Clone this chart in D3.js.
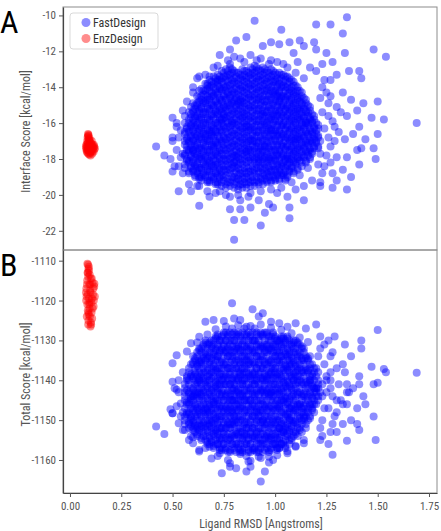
<!DOCTYPE html>
<html>
<head>
<meta charset="utf-8">
<script src="https://cdn.jsdelivr.net/npm/d3@7"></script>
<style>
  body { margin: 0; background: #fff; }
  svg { display: block; font-family: "Liberation Sans Narrow", "Roboto Condensed", Roboto, sans-serif; }
</style>
</head>
<body>
<svg id="chart" width="441" height="531"></svg>
<script>
const xTicks = [0, 0.25, 0.5, 0.75, 1, 1.25, 1.5, 1.75];
const interfaceTicks = [-22, -20, -18, -16, -14, -12, -10];
const totalTicks = [-1160, -1150, -1140, -1130, -1120, -1110];
const seriesNames = ['FastDesign', 'EnzDesign'];

// rows: [ligand RMSD, interface score, total score]
const fastDesign = [
[0.56,-16.0,-1145],[0.57,-16.3,-1148],[0.56,-16.6,-1151],[0.57,-16.9,-1139],[0.56,-17.2,-1142],[0.57,-17.5,-1146],[0.56,-17.8,-1149],[0.57,-18.1,-1140],[0.56,-18.5,-1143],
[0.58,-15.4,-1143],[0.59,-15.7,-1145],[0.58,-16.0,-1148],[0.59,-16.2,-1150],[0.58,-16.5,-1152],[0.59,-16.8,-1136],[0.58,-17.1,-1138],[0.59,-17.4,-1139],[0.58,-17.6,-1141],[0.59,-17.9,-1144],[0.58,-18.2,-1146],[0.59,-18.5,-1149],[0.58,-18.8,-1151],
[0.60,-14.9,-1142],[0.61,-15.2,-1143],[0.60,-15.4,-1144],[0.61,-15.7,-1146],[0.60,-16.0,-1147],[0.61,-16.2,-1148],[0.60,-16.5,-1150],[0.61,-16.8,-1151],[0.60,-17.0,-1152],[0.61,-17.3,-1153],[0.60,-17.6,-1134],[0.61,-17.9,-1135],[0.60,-18.2,-1136],[0.61,-18.4,-1138],[0.60,-18.7,-1139],[0.61,-19.0,-1140],
[0.62,-14.5,-1147],[0.63,-14.8,-1148],[0.62,-15.0,-1149],[0.63,-15.3,-1151],[0.62,-15.6,-1152],[0.63,-15.8,-1153],[0.62,-16.1,-1154],[0.63,-16.4,-1132],[0.62,-16.7,-1133],[0.63,-16.9,-1135],[0.62,-17.2,-1136],[0.63,-17.5,-1137],[0.62,-17.8,-1139],[0.63,-18.0,-1140],[0.62,-18.3,-1141],[0.63,-18.6,-1143],[0.62,-18.8,-1144],[0.63,-19.1,-1145],
[0.64,-14.1,-1136],[0.65,-14.4,-1138],[0.64,-14.7,-1139],[0.65,-14.9,-1140],[0.64,-15.2,-1142],[0.65,-15.5,-1143],[0.64,-15.8,-1144],[0.65,-16.1,-1146],[0.64,-16.4,-1147],[0.65,-16.6,-1148],[0.64,-16.9,-1150],[0.65,-17.2,-1151],[0.64,-17.5,-1152],[0.65,-17.8,-1154],[0.64,-18.0,-1155],[0.65,-18.3,-1131],[0.64,-18.6,-1132],[0.65,-18.9,-1134],[0.64,-19.2,-1135],
[0.66,-13.8,-1149],[0.67,-14.1,-1151],[0.66,-14.4,-1152],[0.67,-14.7,-1153],[0.66,-14.9,-1155],[0.67,-15.2,-1156],[0.66,-15.5,-1130],[0.67,-15.8,-1131],[0.66,-16.1,-1133],[0.67,-16.4,-1134],[0.66,-16.7,-1135],[0.67,-17.0,-1137],[0.66,-17.3,-1138],[0.67,-17.6,-1140],[0.66,-17.9,-1141],[0.67,-18.2,-1142],[0.66,-18.4,-1144],[0.67,-18.7,-1145],[0.66,-19.0,-1147],[0.67,-19.3,-1148],
[0.68,-13.6,-1140],[0.69,-13.9,-1142],[0.68,-14.2,-1143],[0.69,-14.5,-1144],[0.68,-14.7,-1146],[0.69,-15.0,-1147],[0.68,-15.3,-1148],[0.69,-15.6,-1150],[0.68,-15.9,-1151],[0.69,-16.2,-1152],[0.68,-16.5,-1154],[0.69,-16.7,-1155],[0.68,-17.0,-1156],[0.69,-17.3,-1130],[0.68,-17.6,-1131],[0.69,-17.9,-1132],[0.68,-18.2,-1134],[0.69,-18.4,-1135],[0.68,-18.7,-1136],[0.69,-19.0,-1138],[0.68,-19.3,-1139],
[0.70,-13.4,-1152],[0.71,-13.7,-1153],[0.70,-14.0,-1154],[0.71,-14.3,-1156],[0.70,-14.5,-1157],[0.71,-14.8,-1129],[0.70,-15.1,-1130],[0.71,-15.4,-1132],[0.70,-15.7,-1133],[0.71,-16.0,-1134],[0.70,-16.3,-1136],[0.71,-16.5,-1137],[0.70,-16.8,-1138],[0.71,-17.1,-1140],[0.70,-17.4,-1141],[0.71,-17.7,-1142],[0.70,-18.0,-1144],[0.71,-18.3,-1145],[0.70,-18.5,-1146],[0.71,-18.8,-1148],[0.70,-19.1,-1149],[0.71,-19.4,-1150],
[0.72,-13.3,-1135],[0.73,-13.6,-1137],[0.72,-13.9,-1138],[0.73,-14.1,-1139],[0.72,-14.4,-1141],[0.73,-14.7,-1142],[0.72,-15.0,-1143],[0.73,-15.3,-1145],[0.72,-15.5,-1146],[0.73,-15.8,-1147],[0.72,-16.1,-1149],[0.73,-16.4,-1150],[0.72,-16.7,-1151],[0.73,-16.9,-1153],[0.72,-17.2,-1154],[0.73,-17.5,-1155],[0.72,-17.8,-1156],[0.73,-18.0,-1157],[0.72,-18.3,-1129],[0.73,-18.6,-1130],[0.72,-18.9,-1131],[0.73,-19.1,-1133],[0.72,-19.4,-1134],
[0.74,-13.1,-1144],[0.75,-13.4,-1145],[0.74,-13.7,-1147],[0.75,-14.0,-1148],[0.74,-14.2,-1149],[0.75,-14.5,-1151],[0.74,-14.8,-1152],[0.75,-15.1,-1153],[0.74,-15.4,-1155],[0.75,-15.7,-1156],[0.74,-16.0,-1157],[0.75,-16.2,-1128],[0.74,-16.5,-1129],[0.75,-16.8,-1131],[0.74,-17.1,-1132],[0.75,-17.4,-1133],[0.74,-17.7,-1135],[0.75,-18.0,-1136],[0.74,-18.3,-1137],[0.75,-18.6,-1139],[0.74,-18.9,-1140],[0.75,-19.2,-1141],[0.74,-19.5,-1143],
[0.76,-13.0,-1154],[0.77,-13.3,-1155],[0.76,-13.6,-1157],[0.77,-13.9,-1158],[0.76,-14.2,-1128],[0.77,-14.4,-1129],[0.76,-14.7,-1130],[0.77,-15.0,-1132],[0.76,-15.3,-1133],[0.77,-15.6,-1134],[0.76,-15.9,-1136],[0.77,-16.2,-1137],[0.76,-16.5,-1139],[0.77,-16.8,-1140],[0.76,-17.1,-1141],[0.77,-17.4,-1143],[0.76,-17.7,-1144],[0.77,-18.0,-1146],[0.76,-18.3,-1147],[0.77,-18.6,-1148],[0.76,-18.9,-1150],[0.77,-19.3,-1151],[0.76,-19.6,-1152],
[0.78,-12.9,-1138],[0.79,-13.2,-1140],[0.78,-13.5,-1141],[0.79,-13.8,-1142],[0.78,-14.1,-1144],[0.79,-14.4,-1145],[0.78,-14.6,-1147],[0.79,-14.9,-1148],[0.78,-15.2,-1149],[0.79,-15.5,-1151],[0.78,-15.8,-1152],[0.79,-16.1,-1154],[0.78,-16.4,-1155],[0.79,-16.7,-1156],[0.78,-17.0,-1158],[0.79,-17.3,-1127],[0.78,-17.6,-1128],[0.79,-17.9,-1130],[0.78,-18.2,-1131],[0.79,-18.5,-1133],[0.78,-18.8,-1134],[0.79,-19.2,-1135],[0.78,-19.5,-1137],
[0.80,-13.1,-1149],[0.81,-13.4,-1150],[0.80,-13.7,-1151],[0.81,-14.0,-1153],[0.80,-14.3,-1154],[0.81,-14.6,-1156],[0.80,-14.8,-1157],[0.81,-15.1,-1158],[0.80,-15.4,-1128],[0.81,-15.7,-1129],[0.80,-16.0,-1130],[0.81,-16.3,-1132],[0.80,-16.6,-1133],[0.81,-16.9,-1135],[0.80,-17.2,-1136],[0.81,-17.5,-1137],[0.80,-17.8,-1139],[0.81,-18.1,-1140],[0.80,-18.4,-1142],[0.81,-18.7,-1143],[0.80,-19.0,-1144],[0.81,-19.3,-1146],[0.80,-19.6,-1147],
[0.82,-13.2,-1132],[0.83,-13.5,-1133],[0.82,-13.8,-1135],[0.83,-14.1,-1136],[0.82,-14.4,-1138],[0.83,-14.7,-1139],[0.82,-14.9,-1140],[0.83,-15.2,-1142],[0.82,-15.5,-1143],[0.83,-15.8,-1145],[0.82,-16.1,-1146],[0.83,-16.4,-1147],[0.82,-16.7,-1149],[0.83,-17.0,-1150],[0.82,-17.3,-1152],[0.83,-17.6,-1153],[0.82,-17.9,-1154],[0.83,-18.2,-1156],[0.82,-18.5,-1157],[0.83,-18.8,-1158],[0.82,-19.1,-1128],[0.83,-19.4,-1129],[0.82,-19.7,-1131],
[0.84,-13.0,-1141],[0.85,-13.3,-1143],[0.84,-13.6,-1144],[0.85,-13.9,-1145],[0.84,-14.2,-1147],[0.85,-14.5,-1148],[0.84,-14.8,-1150],[0.85,-15.1,-1151],[0.84,-15.4,-1153],[0.85,-15.6,-1154],[0.84,-15.9,-1155],[0.85,-16.2,-1157],[0.84,-16.5,-1158],[0.85,-16.8,-1127],[0.84,-17.1,-1128],[0.85,-17.4,-1130],[0.84,-17.7,-1131],[0.85,-18.0,-1133],[0.84,-18.3,-1134],[0.85,-18.7,-1135],[0.84,-19.0,-1137],[0.85,-19.3,-1138],[0.84,-19.6,-1140],
[0.86,-13.1,-1154],[0.87,-13.4,-1155],[0.86,-13.7,-1156],[0.87,-14.0,-1158],[0.86,-14.3,-1159],[0.87,-14.6,-1128],[0.86,-14.9,-1129],[0.87,-15.2,-1131],[0.86,-15.5,-1132],[0.87,-15.8,-1134],[0.86,-16.1,-1135],[0.87,-16.4,-1136],[0.86,-16.7,-1138],[0.87,-17.0,-1139],[0.86,-17.2,-1141],[0.87,-17.5,-1142],[0.86,-17.8,-1144],[0.87,-18.1,-1145],[0.86,-18.4,-1146],[0.87,-18.7,-1148],[0.86,-19.0,-1149],[0.87,-19.3,-1151],[0.86,-19.6,-1152],
[0.88,-12.9,-1136],[0.89,-13.2,-1138],[0.88,-13.5,-1139],[0.89,-13.8,-1140],[0.88,-14.1,-1142],[0.89,-14.4,-1143],[0.88,-14.7,-1145],[0.89,-15.0,-1146],[0.88,-15.3,-1147],[0.89,-15.6,-1149],[0.88,-15.9,-1150],[0.89,-16.2,-1152],[0.88,-16.4,-1153],[0.89,-16.7,-1154],[0.88,-17.0,-1156],[0.89,-17.3,-1157],[0.88,-17.6,-1158],[0.89,-17.9,-1128],[0.88,-18.2,-1129],[0.89,-18.6,-1130],[0.88,-18.9,-1132],[0.89,-19.2,-1133],[0.88,-19.5,-1135],
[0.90,-12.8,-1145],[0.91,-13.1,-1147],[0.90,-13.4,-1148],[0.91,-13.7,-1150],[0.90,-14.0,-1151],[0.91,-14.3,-1153],[0.90,-14.6,-1154],[0.91,-14.9,-1155],[0.90,-15.2,-1157],[0.91,-15.5,-1158],[0.90,-15.8,-1127],[0.91,-16.1,-1128],[0.90,-16.4,-1130],[0.91,-16.7,-1131],[0.90,-17.0,-1133],[0.91,-17.3,-1134],[0.90,-17.6,-1136],[0.91,-17.9,-1137],[0.90,-18.2,-1138],[0.91,-18.5,-1140],[0.90,-18.8,-1141],[0.91,-19.2,-1143],[0.90,-19.5,-1144],
[0.92,-13.0,-1131],[0.93,-13.3,-1132],[0.92,-13.6,-1134],[0.93,-13.9,-1135],[0.92,-14.2,-1136],[0.93,-14.5,-1138],[0.92,-14.7,-1139],[0.93,-15.0,-1141],[0.92,-15.3,-1142],[0.93,-15.6,-1143],[0.92,-15.9,-1145],[0.93,-16.2,-1146],[0.92,-16.5,-1148],[0.93,-16.8,-1149],[0.92,-17.1,-1150],[0.93,-17.4,-1152],[0.92,-17.6,-1153],[0.93,-17.9,-1155],[0.92,-18.2,-1156],[0.93,-18.5,-1157],[0.92,-18.8,-1158],[0.93,-19.1,-1128],[0.92,-19.4,-1129],
[0.94,-12.9,-1150],[0.95,-13.2,-1151],[0.94,-13.5,-1152],[0.95,-13.8,-1154],[0.94,-14.1,-1155],[0.95,-14.4,-1156],[0.94,-14.7,-1158],[0.95,-15.0,-1128],[0.94,-15.3,-1129],[0.95,-15.6,-1131],[0.94,-15.9,-1132],[0.95,-16.1,-1133],[0.94,-16.4,-1135],[0.95,-16.7,-1136],[0.94,-17.0,-1137],[0.95,-17.3,-1139],[0.94,-17.6,-1140],[0.95,-17.9,-1142],[0.94,-18.2,-1143],[0.95,-18.5,-1144],[0.94,-18.8,-1146],[0.95,-19.1,-1147],[0.94,-19.4,-1148],
[0.96,-13.1,-1140],[0.97,-13.4,-1142],[0.96,-13.7,-1143],[0.97,-14.0,-1144],[0.96,-14.2,-1146],[0.97,-14.5,-1147],[0.96,-14.8,-1149],[0.97,-15.1,-1150],[0.96,-15.4,-1151],[0.97,-15.7,-1153],[0.96,-16.0,-1154],[0.97,-16.3,-1155],[0.96,-16.5,-1157],[0.97,-16.8,-1158],[0.96,-17.1,-1128],[0.97,-17.4,-1129],[0.96,-17.7,-1131],[0.97,-18.0,-1132],[0.96,-18.2,-1133],[0.97,-18.5,-1135],[0.96,-18.8,-1136],[0.97,-19.0,-1138],[0.96,-19.3,-1139],
[0.98,-13.0,-1155],[0.99,-13.3,-1156],[0.98,-13.6,-1157],[0.99,-13.9,-1128],[0.98,-14.2,-1129],[0.99,-14.4,-1131],[0.98,-14.7,-1132],[0.99,-15.0,-1133],[0.98,-15.3,-1135],[0.99,-15.6,-1136],[0.98,-15.8,-1137],[0.99,-16.1,-1139],[0.98,-16.4,-1140],[0.99,-16.7,-1141],[0.98,-17.0,-1143],[0.99,-17.3,-1144],[0.98,-17.6,-1145],[0.99,-17.9,-1147],[0.98,-18.1,-1148],[0.99,-18.4,-1150],[0.98,-18.7,-1151],[0.99,-19.0,-1152],[0.98,-19.3,-1154],
[1.00,-13.2,-1138],[1.01,-13.5,-1139],[1.00,-13.7,-1141],[1.01,-14.0,-1142],[1.00,-14.3,-1143],[1.01,-14.5,-1145],[1.00,-14.8,-1146],[1.01,-15.1,-1147],[1.00,-15.4,-1149],[1.01,-15.6,-1150],[1.00,-15.9,-1151],[1.01,-16.2,-1153],[1.00,-16.5,-1154],[1.01,-16.7,-1155],[1.00,-17.0,-1156],[1.01,-17.3,-1157],[1.00,-17.6,-1129],[1.01,-17.8,-1130],[1.00,-18.1,-1131],[1.01,-18.4,-1133],[1.00,-18.7,-1134],[1.01,-18.9,-1135],[1.00,-19.2,-1137],
[1.02,-13.2,-1147],[1.03,-13.5,-1148],[1.02,-13.8,-1150],[1.03,-14.0,-1151],[1.02,-14.3,-1152],[1.03,-14.6,-1153],[1.02,-14.8,-1155],[1.03,-15.1,-1156],[1.02,-15.4,-1157],[1.03,-15.7,-1129],[1.02,-15.9,-1130],[1.03,-16.2,-1131],[1.02,-16.5,-1133],[1.03,-16.8,-1134],[1.02,-17.0,-1135],[1.03,-17.3,-1136],[1.02,-17.6,-1138],[1.03,-17.9,-1139],[1.02,-18.1,-1140],[1.03,-18.4,-1142],[1.02,-18.7,-1143],[1.03,-18.9,-1144],[1.02,-19.2,-1146],
[1.04,-13.3,-1134],[1.05,-13.6,-1136],[1.04,-13.9,-1137],[1.05,-14.2,-1138],[1.04,-14.5,-1140],[1.05,-14.7,-1141],[1.04,-15.0,-1142],[1.05,-15.3,-1144],[1.04,-15.6,-1145],[1.05,-15.9,-1146],[1.04,-16.1,-1148],[1.05,-16.4,-1149],[1.04,-16.7,-1151],[1.05,-17.0,-1152],[1.04,-17.3,-1153],[1.05,-17.5,-1155],[1.04,-17.8,-1156],[1.05,-18.1,-1157],[1.04,-18.4,-1129],[1.05,-18.7,-1130],[1.04,-18.9,-1131],[1.05,-19.2,-1133],
[1.06,-13.4,-1144],[1.07,-13.7,-1145],[1.06,-14.0,-1146],[1.07,-14.3,-1148],[1.06,-14.5,-1149],[1.07,-14.8,-1150],[1.06,-15.1,-1152],[1.07,-15.4,-1153],[1.06,-15.6,-1154],[1.07,-15.9,-1156],[1.06,-16.2,-1129],[1.07,-16.5,-1130],[1.06,-16.8,-1132],[1.07,-17.0,-1133],[1.06,-17.3,-1134],[1.07,-17.6,-1136],[1.06,-17.9,-1137],[1.07,-18.2,-1138],[1.06,-18.4,-1140],[1.07,-18.7,-1141],[1.06,-19.0,-1142],
[1.08,-13.6,-1150],[1.09,-13.9,-1151],[1.08,-14.2,-1152],[1.09,-14.4,-1154],[1.08,-14.7,-1155],[1.09,-15.0,-1130],[1.08,-15.3,-1131],[1.09,-15.5,-1132],[1.08,-15.8,-1134],[1.09,-16.1,-1135],[1.08,-16.3,-1136],[1.09,-16.6,-1138],[1.08,-16.9,-1139],[1.09,-17.2,-1140],[1.08,-17.4,-1142],[1.09,-17.7,-1143],[1.08,-18.0,-1144],[1.09,-18.2,-1146],[1.08,-18.5,-1147],[1.09,-18.8,-1148],
[1.10,-13.9,-1138],[1.11,-14.2,-1140],[1.10,-14.5,-1141],[1.11,-14.7,-1143],[1.10,-15.0,-1144],[1.11,-15.3,-1146],[1.10,-15.6,-1147],[1.11,-15.8,-1148],[1.10,-16.1,-1150],[1.11,-16.4,-1151],[1.10,-16.7,-1153],[1.11,-16.9,-1154],[1.10,-17.2,-1130],[1.11,-17.5,-1131],[1.10,-17.8,-1133],[1.11,-18.0,-1134],[1.10,-18.3,-1136],[1.11,-18.6,-1137],
[1.12,-14.2,-1146],[1.13,-14.5,-1147],[1.12,-14.8,-1149],[1.13,-15.0,-1150],[1.12,-15.3,-1152],[1.13,-15.6,-1153],[1.12,-15.8,-1131],[1.13,-16.1,-1132],[1.12,-16.4,-1134],[1.13,-16.7,-1135],[1.12,-16.9,-1137],[1.13,-17.2,-1138],[1.12,-17.5,-1140],[1.13,-17.8,-1141],[1.12,-18.1,-1143],[1.13,-18.4,-1144],
[1.14,-14.6,-1138],[1.15,-14.9,-1140],[1.14,-15.2,-1141],[1.15,-15.4,-1143],[1.14,-15.7,-1144],[1.15,-16.0,-1146],[1.14,-16.3,-1147],[1.15,-16.5,-1149],[1.14,-16.8,-1150],[1.15,-17.1,-1152],[1.14,-17.4,-1132],[1.15,-17.6,-1134],[1.14,-17.9,-1135],[1.15,-18.2,-1137],
[1.16,-15.0,-1144],[1.17,-15.3,-1146],[1.16,-15.6,-1147],[1.17,-15.8,-1149],[1.16,-16.1,-1150],[1.17,-16.4,-1134],[1.16,-16.7,-1135],[1.17,-17.0,-1137],[1.16,-17.2,-1138],[1.17,-17.5,-1140],[1.16,-17.8,-1141],[1.17,-18.0,-1143],
[1.18,-15.5,-1141],[1.19,-15.8,-1142],[1.18,-16.0,-1144],[1.19,-16.3,-1145],[1.18,-16.6,-1147],[1.19,-16.9,-1148],[1.18,-17.1,-1136],[1.19,-17.4,-1138],[1.18,-17.7,-1139],
[1.20,-16.0,-1142],[1.21,-16.3,-1144],[1.20,-16.6,-1146],[1.21,-16.8,-1138],[1.20,-17.1,-1139],[1.21,-17.4,-1141],
[0.57,-16.2,-1145.5],[0.56,-16.5,-1147],[0.57,-16.8,-1148.5],[0.56,-17.0,-1150],[0.57,-17.3,-1139.5],[0.56,-17.7,-1141],[0.57,-18.0,-1142.5],[0.56,-18.3,-1144],
[0.59,-15.5,-1147],[0.58,-15.8,-1148.5],[0.59,-16.1,-1149.5],[0.58,-16.4,-1150.5],[0.59,-16.7,-1151.5],[0.58,-17.0,-1137],[0.59,-17.2,-1138.5],[0.58,-17.5,-1140],[0.59,-17.8,-1142],[0.58,-18.1,-1143.5],[0.59,-18.4,-1144.5],[0.58,-18.7,-1145.5],
[0.61,-15.0,-1138.5],[0.60,-15.3,-1139.5],[0.61,-15.6,-1141],[0.60,-15.8,-1142.5],[0.61,-16.1,-1143.5],[0.60,-16.4,-1145],[0.61,-16.6,-1146.5],[0.60,-16.9,-1147.5],[0.61,-17.2,-1149],[0.60,-17.5,-1150.5],[0.61,-17.7,-1151.5],[0.60,-18.0,-1152.5],[0.61,-18.3,-1134.5],[0.60,-18.6,-1135.5],[0.61,-18.9,-1137],
[0.63,-14.6,-1139.5],[0.62,-14.9,-1140.5],[0.63,-15.2,-1142],[0.62,-15.4,-1143.5],[0.63,-15.7,-1144.5],[0.62,-16.0,-1146],[0.63,-16.3,-1147.5],[0.62,-16.5,-1148.5],[0.63,-16.8,-1150],[0.62,-17.1,-1151.5],[0.63,-17.4,-1152.5],[0.62,-17.6,-1153.5],[0.63,-17.9,-1132.5],[0.62,-18.2,-1134],[0.63,-18.5,-1135.5],[0.62,-18.7,-1136.5],[0.63,-19.0,-1138],
[0.65,-14.2,-1147.5],[0.64,-14.5,-1149],[0.65,-14.8,-1150.5],[0.64,-15.1,-1151.5],[0.65,-15.4,-1153],[0.64,-15.7,-1154.5],[0.65,-16.0,-1131.5],[0.64,-16.2,-1133],[0.65,-16.5,-1134.5],[0.64,-16.8,-1135.5],[0.65,-17.1,-1137],[0.64,-17.4,-1138.5],[0.65,-17.6,-1139.5],[0.64,-17.9,-1141],[0.65,-18.2,-1142.5],[0.64,-18.5,-1143.5],[0.65,-18.8,-1145],[0.64,-19.0,-1146.5],
[0.67,-13.9,-1139],[0.66,-14.2,-1140.5],[0.67,-14.5,-1141.5],[0.66,-14.8,-1143],[0.67,-15.1,-1144.5],[0.66,-15.4,-1146],[0.67,-15.7,-1147.5],[0.66,-16.0,-1148.5],[0.67,-16.3,-1150],[0.66,-16.6,-1151.5],[0.67,-16.9,-1152.5],[0.66,-17.2,-1154],[0.67,-17.5,-1155.5],[0.66,-17.8,-1130.5],[0.67,-18.0,-1132],[0.66,-18.3,-1133.5],[0.67,-18.6,-1134.5],[0.66,-18.9,-1136],[0.67,-19.2,-1137.5],
[0.69,-13.7,-1150.5],[0.68,-14.0,-1151.5],[0.69,-14.3,-1153],[0.68,-14.6,-1154.5],[0.69,-14.9,-1155.5],[0.68,-15.2,-1130.5],[0.69,-15.5,-1131.5],[0.68,-15.8,-1133],[0.69,-16.1,-1134.5],[0.68,-16.4,-1135.5],[0.69,-16.6,-1137],[0.68,-16.9,-1138.5],[0.69,-17.2,-1139.5],[0.68,-17.5,-1141],[0.69,-17.8,-1142.5],[0.68,-18.1,-1143.5],[0.69,-18.3,-1145],[0.68,-18.6,-1146.5],[0.69,-18.9,-1147.5],[0.68,-19.2,-1149],
[0.71,-13.5,-1141.5],[0.70,-13.8,-1143],[0.71,-14.1,-1144.5],[0.70,-14.4,-1145.5],[0.71,-14.7,-1147],[0.70,-15.0,-1148.5],[0.71,-15.3,-1149.5],[0.70,-15.5,-1151],[0.71,-15.8,-1152.5],[0.70,-16.1,-1153.5],[0.71,-16.4,-1155],[0.70,-16.7,-1156.5],[0.71,-17.0,-1129.5],[0.70,-17.3,-1131],[0.71,-17.6,-1132.5],[0.70,-17.8,-1133.5],[0.71,-18.1,-1135],[0.70,-18.4,-1136.5],[0.71,-18.7,-1137.5],[0.70,-19.0,-1139],[0.71,-19.3,-1140.5],
[0.73,-13.4,-1132.5],[0.72,-13.7,-1134],[0.73,-14.0,-1135.5],[0.72,-14.3,-1137],[0.73,-14.6,-1138.5],[0.72,-14.9,-1139.5],[0.73,-15.1,-1141],[0.72,-15.4,-1142.5],[0.73,-15.7,-1143.5],[0.72,-16.0,-1145],[0.73,-16.2,-1146.5],[0.72,-16.5,-1147.5],[0.73,-16.8,-1149],[0.72,-17.1,-1150.5],[0.73,-17.4,-1152],[0.72,-17.6,-1153.5],[0.73,-17.9,-1154.5],[0.72,-18.2,-1156],[0.73,-18.5,-1157.5],[0.72,-18.7,-1128.5],[0.73,-19.0,-1130],[0.72,-19.3,-1131.5],
[0.75,-13.2,-1142.5],[0.74,-13.5,-1143.5],[0.75,-13.8,-1145],[0.74,-14.1,-1146.5],[0.75,-14.4,-1147.5],[0.74,-14.7,-1149],[0.75,-15.0,-1150.5],[0.74,-15.2,-1152],[0.75,-15.5,-1153.5],[0.74,-15.8,-1154.5],[0.75,-16.1,-1156],[0.74,-16.4,-1157.5],[0.75,-16.7,-1128.5],[0.74,-17.0,-1130],[0.75,-17.2,-1131.5],[0.74,-17.5,-1132.5],[0.75,-17.8,-1134],[0.74,-18.1,-1135.5],[0.75,-18.4,-1137],[0.74,-18.7,-1138.5],[0.75,-19.0,-1139.5],[0.74,-19.3,-1141],
[0.77,-13.1,-1150.5],[0.76,-13.4,-1152],[0.77,-13.7,-1153.5],[0.76,-14.0,-1154.5],[0.77,-14.3,-1156],[0.76,-14.6,-1157.5],[0.77,-14.9,-1128.5],[0.76,-15.1,-1130],[0.77,-15.4,-1131.5],[0.76,-15.7,-1132.5],[0.77,-16.0,-1134],[0.76,-16.3,-1135.5],[0.77,-16.6,-1137],[0.76,-16.9,-1138.5],[0.77,-17.2,-1139.5],[0.76,-17.5,-1141],[0.77,-17.8,-1142.5],[0.76,-18.1,-1143.5],[0.77,-18.4,-1145],[0.76,-18.7,-1146.5],[0.77,-19.1,-1147.5],[0.76,-19.4,-1149],
[0.79,-13.0,-1137],[0.78,-13.3,-1138.5],[0.79,-13.6,-1139.5],[0.78,-13.9,-1141],[0.79,-14.2,-1142.5],[0.78,-14.5,-1143.5],[0.79,-14.8,-1145],[0.78,-15.0,-1146.5],[0.79,-15.3,-1147.5],[0.78,-15.6,-1149],[0.79,-15.9,-1150.5],[0.78,-16.2,-1152],[0.79,-16.5,-1153.5],[0.78,-16.8,-1154.5],[0.79,-17.1,-1156],[0.78,-17.4,-1157.5],[0.79,-17.7,-1128.5],[0.78,-18.0,-1130],[0.79,-18.3,-1131.5],[0.78,-18.6,-1132.5],[0.79,-19.0,-1134],[0.78,-19.3,-1135.5],
[0.81,-13.2,-1147.5],[0.80,-13.5,-1149],[0.81,-13.8,-1150.5],[0.80,-14.1,-1152],[0.81,-14.4,-1153.5],[0.80,-14.7,-1154.5],[0.81,-15.0,-1156],[0.80,-15.2,-1157.5],[0.81,-15.5,-1128.5],[0.80,-15.8,-1130],[0.81,-16.1,-1131.5],[0.80,-16.4,-1132.5],[0.81,-16.7,-1134],[0.80,-17.0,-1135.5],[0.81,-17.3,-1137],[0.80,-17.6,-1138.5],[0.81,-17.9,-1139.5],[0.80,-18.2,-1141],[0.81,-18.5,-1142.5],[0.80,-18.8,-1143.5],[0.81,-19.1,-1145],[0.80,-19.4,-1146.5],
[0.83,-13.3,-1130],[0.82,-13.6,-1131.5],[0.83,-13.9,-1132.5],[0.82,-14.2,-1134],[0.83,-14.5,-1135.5],[0.82,-14.8,-1137],[0.83,-15.0,-1138.5],[0.82,-15.3,-1139.5],[0.83,-15.6,-1141],[0.82,-15.9,-1142.5],[0.83,-16.2,-1143.5],[0.82,-16.5,-1145],[0.83,-16.8,-1146.5],[0.82,-17.1,-1147.5],[0.83,-17.4,-1149],[0.82,-17.7,-1150.5],[0.83,-18.0,-1152],[0.82,-18.3,-1153.5],[0.83,-18.6,-1154.5],[0.82,-18.9,-1156],[0.83,-19.2,-1157.5],[0.82,-19.5,-1128.5],
[0.85,-13.1,-1139.5],[0.84,-13.4,-1141],[0.85,-13.7,-1142.5],[0.84,-14.0,-1143.5],[0.85,-14.3,-1145],[0.84,-14.6,-1146.5],[0.85,-14.9,-1147.5],[0.84,-15.2,-1149],[0.85,-15.5,-1150.5],[0.84,-15.7,-1152],[0.85,-16.0,-1153.5],[0.84,-16.3,-1154.5],[0.85,-16.6,-1156],[0.84,-16.9,-1157.5],[0.85,-17.2,-1128.5],[0.84,-17.5,-1130],[0.85,-17.8,-1131.5],[0.84,-18.1,-1132.5],[0.85,-18.5,-1134],[0.84,-18.8,-1135.5],[0.85,-19.1,-1137],[0.84,-19.4,-1138.5],
[0.87,-13.2,-1154.5],[0.86,-13.5,-1156],[0.87,-13.8,-1157.5],[0.86,-14.1,-1128.5],[0.87,-14.4,-1130],[0.86,-14.7,-1131.5],[0.87,-15.0,-1132.5],[0.86,-15.3,-1134],[0.87,-15.6,-1135.5],[0.86,-15.9,-1137],[0.87,-16.2,-1138.5],[0.86,-16.5,-1139.5],[0.87,-16.8,-1141],[0.86,-17.1,-1142.5],[0.87,-17.4,-1143.5],[0.86,-17.6,-1145],[0.87,-17.9,-1146.5],[0.86,-18.2,-1147.5],[0.87,-18.5,-1149],[0.86,-18.8,-1150.5],[0.87,-19.1,-1152],[0.86,-19.4,-1153.5],
[0.89,-13.0,-1135.5],[0.88,-13.3,-1137],[0.89,-13.6,-1138.5],[0.88,-13.9,-1139.5],[0.89,-14.2,-1141],[0.88,-14.5,-1142.5],[0.89,-14.8,-1143.5],[0.88,-15.1,-1145],[0.89,-15.4,-1146.5],[0.88,-15.7,-1147.5],[0.89,-16.0,-1149],[0.88,-16.3,-1150.5],[0.89,-16.6,-1152],[0.88,-16.9,-1153.5],[0.89,-17.2,-1154.5],[0.88,-17.5,-1156],[0.89,-17.8,-1157.5],[0.88,-18.0,-1128.5],[0.89,-18.4,-1130],[0.88,-18.7,-1131.5],[0.89,-19.0,-1132.5],[0.88,-19.3,-1134],
[0.91,-12.9,-1145],[0.90,-13.2,-1146.5],[0.91,-13.5,-1147.5],[0.90,-13.8,-1149],[0.91,-14.1,-1150.5],[0.90,-14.4,-1152],[0.91,-14.7,-1153.5],[0.90,-15.0,-1154.5],[0.91,-15.3,-1156],[0.90,-15.6,-1157.5],[0.91,-15.9,-1128.5],[0.90,-16.2,-1130],[0.91,-16.5,-1131.5],[0.90,-16.8,-1132.5],[0.91,-17.1,-1134],[0.90,-17.4,-1135.5],[0.91,-17.7,-1137],[0.90,-18.0,-1138.5],[0.91,-18.3,-1139.5],[0.90,-18.6,-1141],[0.91,-19.0,-1142.5],[0.90,-19.3,-1143.5],
[0.93,-13.1,-1131.5],[0.92,-13.4,-1132.5],[0.93,-13.7,-1134],[0.92,-14.0,-1135.5],[0.93,-14.3,-1137],[0.92,-14.6,-1138.5],[0.93,-14.9,-1139.5],[0.92,-15.2,-1141],[0.93,-15.5,-1142.5],[0.92,-15.8,-1143.5],[0.93,-16.1,-1145],[0.92,-16.4,-1146.5],[0.93,-16.7,-1147.5],[0.92,-17.0,-1149],[0.93,-17.3,-1150.5],[0.92,-17.5,-1152],[0.93,-17.8,-1153.5],[0.92,-18.1,-1154.5],[0.93,-18.4,-1156],[0.92,-18.7,-1157.5],[0.93,-19.0,-1128.5],[0.92,-19.3,-1130],
[0.95,-13.0,-1149],[0.94,-13.3,-1150.5],[0.95,-13.6,-1152],[0.94,-13.9,-1153.5],[0.95,-14.2,-1154.5],[0.94,-14.5,-1156],[0.95,-14.8,-1157.5],[0.94,-15.1,-1128.5],[0.95,-15.4,-1130],[0.94,-15.7,-1131.5],[0.95,-16.0,-1132.5],[0.94,-16.3,-1134],[0.95,-16.6,-1135.5],[0.94,-16.9,-1137],[0.95,-17.2,-1138.5],[0.94,-17.5,-1139.5],[0.95,-17.8,-1141],[0.94,-18.0,-1142.5],[0.95,-18.3,-1143.5],[0.94,-18.6,-1145],[0.95,-18.9,-1146.5],[0.94,-19.2,-1147.5],
[0.97,-13.2,-1138.5],[0.96,-13.5,-1139.5],[0.97,-13.8,-1141],[0.96,-14.1,-1142.5],[0.97,-14.4,-1143.5],[0.96,-14.7,-1145],[0.97,-15.0,-1146.5],[0.96,-15.3,-1147.5],[0.97,-15.6,-1149],[0.96,-15.9,-1150.5],[0.97,-16.1,-1152],[0.96,-16.4,-1153.5],[0.97,-16.7,-1154.5],[0.96,-17.0,-1156],[0.97,-17.3,-1157.5],[0.96,-17.6,-1128.5],[0.97,-17.9,-1130],[0.96,-18.1,-1131.5],[0.97,-18.4,-1132.5],[0.96,-18.7,-1134],[0.97,-18.9,-1135.5],[0.96,-19.2,-1137],
[0.99,-13.1,-1156],[0.98,-13.4,-1157.5],[0.99,-13.7,-1128.5],[0.98,-14.0,-1130],[0.99,-14.3,-1131.5],[0.98,-14.6,-1132.5],[0.99,-14.9,-1134],[0.98,-15.2,-1135.5],[0.99,-15.5,-1137],[0.98,-15.7,-1138.5],[0.99,-16.0,-1139.5],[0.98,-16.3,-1141],[0.99,-16.6,-1142.5],[0.98,-16.9,-1143.5],[0.99,-17.2,-1145],[0.98,-17.5,-1146.5],[0.99,-17.8,-1147.5],[0.98,-18.0,-1149],[0.99,-18.3,-1150.5],[0.98,-18.6,-1152],[0.99,-18.9,-1153.5],[0.98,-19.2,-1154.5],
[1.01,-13.3,-1143.5],[1.00,-13.6,-1145],[1.01,-13.9,-1146.5],[1.00,-14.2,-1147.5],[1.01,-14.4,-1149],[1.00,-14.7,-1150.5],[1.01,-15.0,-1152],[1.00,-15.3,-1153.5],[1.01,-15.5,-1154.5],[1.00,-15.8,-1156],[1.01,-16.1,-1157],[1.00,-16.4,-1129.5],[1.01,-16.6,-1130],[1.00,-16.9,-1131.5],[1.01,-17.2,-1132.5],[1.00,-17.5,-1134],[1.01,-17.7,-1135.5],[1.00,-18.0,-1137],[1.01,-18.3,-1138.5],[1.00,-18.6,-1139.5],[1.01,-18.8,-1141],[1.00,-19.1,-1142.5],
[1.03,-13.3,-1134],[1.02,-13.6,-1135.5],[1.03,-13.9,-1137],[1.02,-14.2,-1138.5],[1.03,-14.5,-1139.5],[1.02,-14.7,-1141],[1.03,-15.0,-1142.5],[1.02,-15.3,-1143.5],[1.03,-15.5,-1145],[1.02,-15.8,-1146.5],[1.03,-16.1,-1147.5],[1.02,-16.4,-1149],[1.03,-16.6,-1150.5],[1.02,-16.9,-1152],[1.03,-17.2,-1153.5],[1.02,-17.5,-1154.5],[1.03,-17.7,-1156],[1.02,-18.0,-1157],[1.03,-18.3,-1129.5],[1.02,-18.5,-1130.5],[1.03,-18.8,-1131.5],[1.02,-19.1,-1132.5],
[1.05,-13.4,-1148.5],[1.04,-13.7,-1150],[1.05,-14.0,-1151.5],[1.04,-14.3,-1152.5],[1.05,-14.6,-1154],[1.04,-14.9,-1155.5],[1.05,-15.2,-1156.5],[1.04,-15.4,-1129.5],[1.05,-15.7,-1130.5],[1.04,-16.0,-1132],[1.05,-16.3,-1133.5],[1.04,-16.6,-1135],[1.05,-16.8,-1136.5],[1.04,-17.1,-1137.5],[1.05,-17.4,-1139],[1.04,-17.7,-1140.5],[1.05,-18.0,-1141.5],[1.04,-18.2,-1143],[1.05,-18.5,-1144.5],[1.04,-18.8,-1145.5],[1.05,-19.1,-1147],
[1.07,-13.5,-1136.5],[1.06,-13.8,-1137.5],[1.07,-14.1,-1139],[1.06,-14.4,-1140.5],[1.07,-14.7,-1141.5],[1.06,-15.0,-1143],[1.07,-15.2,-1144.5],[1.06,-15.5,-1145.5],[1.07,-15.8,-1147],[1.06,-16.1,-1148.5],[1.07,-16.4,-1149.5],[1.06,-16.6,-1151],[1.07,-16.9,-1152.5],[1.06,-17.2,-1153.5],[1.07,-17.5,-1155],[1.06,-17.8,-1129.5],[1.07,-18.0,-1131],[1.06,-18.3,-1132.5],[1.07,-18.6,-1133.5],[1.06,-18.9,-1135],
[1.09,-13.7,-1145],[1.08,-14.0,-1146.5],[1.09,-14.3,-1147.5],[1.08,-14.6,-1149],[1.09,-14.9,-1150.5],[1.08,-15.1,-1151.5],[1.09,-15.4,-1153],[1.08,-15.7,-1154.5],[1.09,-15.9,-1130.5],[1.08,-16.2,-1131.5],[1.09,-16.5,-1133],[1.08,-16.8,-1134.5],[1.09,-17.0,-1135.5],[1.08,-17.3,-1137],[1.09,-17.6,-1138.5],[1.08,-17.8,-1139.5],[1.09,-18.1,-1141],[1.08,-18.4,-1142.5],[1.09,-18.7,-1143.5],
[1.11,-14.0,-1135],[1.10,-14.3,-1136.5],[1.11,-14.6,-1137.5],[1.10,-14.9,-1139],[1.11,-15.2,-1140.5],[1.10,-15.4,-1142],[1.11,-15.7,-1143.5],[1.10,-16.0,-1145],[1.11,-16.3,-1146.5],[1.10,-16.5,-1147.5],[1.11,-16.8,-1149],[1.10,-17.1,-1150.5],[1.11,-17.4,-1152],[1.10,-17.6,-1153.5],[1.11,-17.9,-1130.5],[1.10,-18.2,-1132],[1.11,-18.5,-1133.5],
[1.13,-14.3,-1145],[1.12,-14.6,-1146.5],[1.13,-14.9,-1148],[1.12,-15.2,-1149.5],[1.13,-15.4,-1151],[1.12,-15.7,-1152.5],[1.13,-16.0,-1131.5],[1.12,-16.2,-1133],[1.13,-16.5,-1134.5],[1.12,-16.8,-1136],[1.13,-17.1,-1137.5],[1.12,-17.3,-1139],[1.13,-17.6,-1140.5],[1.12,-17.9,-1142],[1.13,-18.2,-1143.5],
[1.15,-14.7,-1142],[1.14,-15.0,-1143.5],[1.15,-15.3,-1145],[1.14,-15.6,-1146.5],[1.15,-15.9,-1148],[1.14,-16.1,-1149.5],[1.15,-16.4,-1151],[1.14,-16.7,-1133],[1.15,-17.0,-1134.5],[1.14,-17.2,-1136],[1.15,-17.5,-1137.5],[1.14,-17.8,-1139],[1.15,-18.1,-1140.5],
[1.17,-15.1,-1140.5],[1.16,-15.4,-1142],[1.17,-15.7,-1143.5],[1.16,-16.0,-1145],[1.17,-16.3,-1146.5],[1.16,-16.6,-1148],[1.17,-16.8,-1149.5],[1.16,-17.1,-1134.5],[1.17,-17.4,-1136],[1.16,-17.6,-1137.5],[1.17,-17.9,-1139],
[1.19,-15.6,-1143],[1.18,-15.9,-1144.5],[1.19,-16.2,-1146],[1.18,-16.5,-1147.5],[1.19,-16.7,-1137],[1.18,-17.0,-1138.5],[1.19,-17.3,-1140],[1.18,-17.6,-1141.5],
[1.21,-16.1,-1140],[1.20,-16.4,-1143],[1.21,-16.7,-1145],[1.20,-17.0,-1137],[1.21,-17.3,-1142],
[0.90,-10.3,-1140],[1.03,-10.8,-1145],[1.20,-10.5,-1142],[1.27,-10.5,-1140],[1.35,-10.1,-1143],[1.33,-11.0,-1146],[1.48,-11.9,-1141],[1.54,-12.3,-1138],[1.69,-16.0,-1138.1],
[0.42,-17.3,-1151.6],[0.46,-17.8,-1153.5],[0.49,-18.0,-1147.3],[0.53,-19.8,-1150.8],[0.63,-20.6,-1157.9],[0.80,-22.5,-1150],[0.80,-21.4,-1145],[0.85,-21.4,-1140],[0.93,-21.7,-1165.4],
[1.07,-21.3,-1150],[1.14,-20.3,-1148],[1.22,-19.5,-1143],[1.28,-19.6,-1158.7],[1.35,-19.7,-1155.2],[1.41,-18.3,-1152.5],[1.49,-18.0,-1155.0],[1.48,-17.4,-1149.1],[1.50,-16.6,-1140.6],
[1.47,-15.7,-1136.6],[1.53,-15.8,-1137.2],[1.50,-14.8,-1127.4],[0.73,-12.2,-1140],[0.81,-11.4,-1148],[0.86,-11.2,-1152],[0.50,-15.7,-1135.7],[0.57,-14.8,-1132.8],[0.63,-13.4,-1140],
[0.79,-16.0,-1120.7],[0.89,-17.0,-1122.2],[0.94,-15.5,-1123.2],[0.92,-18.0,-1124.0],[0.60,-17.5,-1154.3],[0.69,-16.5,-1159.6],[0.74,-15.8,-1163.3],[0.81,-17.8,-1162.1],[0.86,-16.2,-1162.9],[0.95,-17.3,-1162.9],
[1.23,-14.0,-1154],[1.27,-14.5,-1134],[1.30,-15.1,-1137],[1.33,-14.3,-1151],[1.37,-14.7,-1150],[1.40,-15.3,-1147],[1.43,-14.9,-1144],[1.35,-15.6,-1141],[1.41,-16.2,-1141],[1.38,-16.6,-1142],
[1.44,-16.9,-1146],[1.34,-16.9,-1131],[1.29,-16.2,-1129],[1.26,-15.6,-1130],[1.27,-17.3,-1142],[1.30,-17.9,-1148],[1.35,-17.9,-1146],[1.33,-18.6,-1136],[1.28,-18.8,-1151],[1.24,-18.4,-1147],
[1.22,-17.7,-1129],[1.26,-16.8,-1156],[1.40,-17.5,-1151],[1.42,-17.4,-1130],[1.30,-19.2,-1153],[1.37,-19.0,-1134],[1.22,-19.3,-1155],[1.25,-12.1,-1140],[1.28,-12.6,-1144],[1.34,-12.1,-1138],
[1.41,-13.1,-1139],[1.42,-13.5,-1132],[1.36,-13.1,-1143],[1.30,-13.3,-1145],[1.27,-13.6,-1138],[1.23,-12.7,-1141],[1.20,-13.1,-1144],[1.17,-12.9,-1140],[1.20,-11.9,-1126],[1.19,-11.5,-1142],
[0.78,-11.9,-1145],[0.94,-11.7,-1150],[0.98,-11.5,-1138],[1.02,-11.6,-1152],[1.07,-11.5,-1135],[1.12,-11.4,-1146],[1.09,-12.1,-1140],[1.14,-11.7,-1149],[0.70,-12.9,-1146],
[0.78,-12.7,-1151],[0.85,-12.6,-1136],[0.91,-12.5,-1148],[0.80,-12.3,-1141],[0.98,-12.5,-1143],[1.04,-12.7,-1153],[1.11,-12.6,-1139],[0.68,-13.4,-1150],[0.62,-13.5,-1143],
[0.54,-16.4,-1145.8],[0.52,-17.5,-1142.4],[0.56,-15.6,-1152.5],[0.59,-15.1,-1130.7],[0.60,-14.3,-1144],[0.63,-14.2,-1129.1],[0.67,-13.8,-1147],[0.72,-13.6,-1152],[0.55,-17.7,-1148],
[0.50,-18.7,-1148.3],[0.50,-16.8,-1140.4],[0.52,-16.0,-1133.7],[0.58,-19.4,-1155.0],[0.50,-17.0,-1148.3],
[0.68,-20.1,-1156.7],[0.73,-19.8,-1158.3],[0.78,-20.1,-1160.8],[0.83,-20.3,-1144],[0.87,-20.1,-1160.4],[0.92,-20.3,-1159.2],[0.97,-20.5,-1159.2],[1.01,-19.9,-1157.5],[1.06,-20.1,-1158.3],
[1.10,-19.7,-1156.7],[1.14,-19.5,-1155.8],[1.18,-19.2,-1146],[0.78,-20.8,-1161.7],[0.63,-19.5,-1157.5],[0.59,-19.8,-1154],[0.55,-18.8,-1152.5],[0.51,-18.4,-1142],[0.95,-21.0,-1140],
[0.99,-20.7,-1160.0],[0.83,-20.8,-1138],[0.88,-20.7,-1161.7],[1.07,-20.7,-1147],
[0.66,-16.8,-1125.3],[0.70,-17.2,-1124.9],[0.75,-15.5,-1125.1],[0.80,-18.2,-1124.5],[0.83,-14.8,-1124.9],[0.86,-17.6,-1126.6],[0.98,-16.4,-1125.3],[1.02,-14.6,-1125.7],[1.06,-18.0,-1126.6],
[1.10,-16.9,-1125.7],[1.15,-16.0,-1127.0],
[1.22,-14.6,-1132],[1.23,-15.4,-1150],[1.24,-16.3,-1136],[1.22,-17.0,-1152],[1.25,-17.8,-1139],[1.23,-18.8,-1144],[1.26,-14.9,-1147],[1.28,-15.9,-1133],[1.29,-17.0,-1149],[1.31,-16.5,-1141],
[1.32,-15.4,-1145],[1.25,-14.3,-1143],[1.21,-18.3,-1134],[1.27,-18.2,-1153],[1.24,-13.6,-1131],
[0.66,-13.3,-1157],[0.72,-12.8,-1159],[0.77,-12.5,-1160],[0.83,-12.4,-1158.5],[0.88,-12.2,-1160.2],[0.93,-12.4,-1159.5],[0.97,-12.7,-1160.6],[1.01,-12.6,-1158.8],[1.06,-12.9,-1157.8],
[1.10,-13.2,-1156.5],[1.14,-13.5,-1155],[0.60,-14.0,-1155.8],
[0.62,-19.5,-1130.5],[0.67,-19.8,-1128.5],[0.71,-19.9,-1127.2],[0.76,-20.0,-1126.5],[0.82,-20.0,-1126.2],[0.88,-19.9,-1126.4],[0.93,-19.8,-1126.0],[0.98,-19.7,-1126.8],[1.03,-19.6,-1127.3],
[1.08,-19.3,-1128.2],[1.12,-18.9,-1129.3],[1.16,-18.5,-1130.4],
[0.53,-16.8,-1143],[0.54,-17.9,-1149],[0.52,-16.2,-1146.5],[0.55,-15.3,-1138],[0.53,-18.4,-1140]
];

const enzDesign = [
[0.088,-16.6,-1111],[0.090,-16.7,-1112],[0.086,-16.8,-1113],[0.092,-16.9,-1111.5],[0.089,-16.75,-1114],
[0.084,-17.0,-1115],[0.094,-17.0,-1116],[0.080,-17.2,-1117],[0.100,-17.1,-1118],[0.110,-17.2,-1115.5],
[0.118,-17.3,-1116.5],[0.121,-17.4,-1119],[0.079,-17.4,-1120],[0.085,-17.5,-1121],[0.095,-17.3,-1122],
[0.105,-17.5,-1123],[0.115,-17.6,-1121.5],[0.082,-17.6,-1124],[0.090,-17.7,-1125],[0.100,-17.8,-1126.5],
[0.108,-17.7,-1124.5],[0.092,-17.2,-1119.5],[0.098,-17.4,-1117.5],[0.087,-17.1,-1122.5],[0.104,-17.3,-1120.5],
[0.112,-17.4,-1118.5],[0.083,-17.3,-1116],[0.096,-16.95,-1113.5],[0.102,-17.6,-1125.5],[0.089,-17.5,-1126],
[0.078,-17.3,-1118],[0.116,-17.2,-1120],[0.106,-17.0,-1114.5],[0.091,-17.45,-1123.5],[0.099,-17.65,-1116],
[0.085,-17.15,-1110.8],[0.093,-17.55,-1112.5],[0.087,-17.35,-1113],[0.110,-17.55,-1122],[0.114,-17.35,-1117],
[0.081,-17.5,-1119],[0.097,-17.2,-1124],[0.094,-17.75,-1121],[0.103,-17.15,-1126],[0.086,-17.65,-1118.5],
[0.119,-17.45,-1115.8],[0.107,-17.25,-1119.5],[0.095,-16.85,-1120.5],[0.090,-16.65,-1123],[0.101,-17.45,-1114.5]
];

const svg = d3.select('#chart');
const left = 63, right = 437;
const x = d3.scaleLinear().domain([-0.034, 1.789]).range([left, right]);

const panels = [
  { letter: 'A', title: 'Interface Score [kcal/mol]', ticks: interfaceTicks, col: 1, top: 7, bottom: 250, domain: [-23.07, -9.53] },
  { letter: 'B', title: 'Total Score [kcal/mol]', ticks: totalTicks, col: 2, top: 250, bottom: 493, domain: [-1168.28, -1107.32] }
];

function styleAxis(g) {
  g.attr('font-family', null).attr('font-size', null);
  g.select('.domain').attr('stroke', '#444').attr('stroke-width', 1.2);
  g.selectAll('.tick line').attr('stroke', '#555');
  g.selectAll('.tick text').attr('fill', '#555').attr('font-size', 11);
}

panels.forEach(p => {
  const y = d3.scaleLinear().domain(p.domain).range([p.bottom, p.top]);

  svg.append('rect')
    .attr('x', left).attr('y', p.top)
    .attr('width', right - left).attr('height', p.bottom - p.top)
    .attr('fill', 'none').attr('stroke', '#8c8c8c');

  svg.append('g').attr('class', 'dots')
    .selectAll('circle')
    .data(fastDesign)
    .join('circle')
    .attr('cx', d => x(d[0]))
    .attr('cy', d => y(d[p.col]))
    .attr('r', 4)
    .attr('fill', '#0000ff')
    .attr('fill-opacity', 0.45);

  svg.append('g').attr('class', 'dots')
    .selectAll('circle')
    .data(enzDesign)
    .join('circle')
    .attr('cx', d => x(d[0]))
    .attr('cy', d => y(d[p.col]))
    .attr('r', 4)
    .attr('fill', '#ff0000')
    .attr('fill-opacity', 0.45);

  svg.append('g')
    .attr('transform', `translate(${left},0)`)
    .call(d3.axisLeft(y).tickValues(p.ticks).tickSize(4).tickSizeOuter(0).tickPadding(3).tickFormat(d => String(d)))
    .call(styleAxis);

  svg.append('text')
    .attr('transform', `translate(30,${(p.top + p.bottom) / 2 + 3}) rotate(-90)`)
    .attr('text-anchor', 'middle')
    .attr('font-size', 12)
    .attr('fill', '#555')
    .text(p.title);

  svg.append('text')
    .attr('x', 0).attr('y', p.top + 26)
    .attr('font-size', 32)
    .attr('fill', '#000')
    .text(p.letter);
});

svg.append('g')
  .attr('transform', 'translate(0,493)')
  .call(d3.axisBottom(x).tickValues(xTicks).tickSize(4).tickSizeOuter(0).tickPadding(5).tickFormat(d3.format('.2f')))
  .call(styleAxis);

svg.append('text')
  .attr('x', 261).attr('y', 528)
  .attr('text-anchor', 'middle')
  .attr('font-size', 12)
  .attr('fill', '#555')
  .text('Ligand RMSD [Angstroms]');

// legend
const legend = svg.append('g').attr('transform', 'translate(70,13)');
legend.append('rect')
  .attr('width', 88).attr('height', 36).attr('rx', 3)
  .attr('fill', '#fff').attr('stroke', '#d9d9d9');
const legendColors = ['#0000ff', '#ff0000'];
seriesNames.forEach((name, i) => {
  legend.append('circle')
    .attr('cx', 16).attr('cy', 9.5 + i * 16).attr('r', 4.5)
    .attr('fill', legendColors[i]).attr('fill-opacity', 0.45);
  legend.append('text')
    .attr('x', 23).attr('y', 13.5 + i * 16)
    .attr('font-size', 12).attr('fill', '#333')
    .text(name);
});
</script>
</body>
</html>
